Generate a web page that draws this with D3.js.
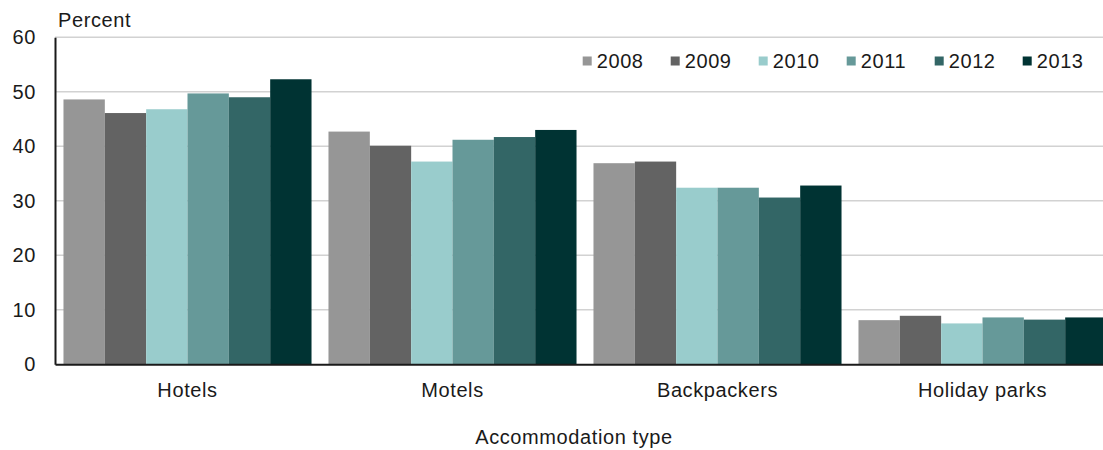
<!DOCTYPE html>
<html>
<head>
<meta charset="utf-8">
<script src="https://cdn.jsdelivr.net/npm/d3@7"></script>
<style>
  html, body { margin: 0; padding: 0; background: #fff; overflow: hidden; }
  svg { display: block; }
  text { font-family: "Liberation Sans", Arial, sans-serif; fill: #1a1a1a; letter-spacing: 0.6px; }
</style>
</head>
<body>
<svg id="chart" width="1103" height="450"></svg>
<script>
// Occupancy share by accommodation type, 2008–2013
const categories = ["Hotels", "Motels", "Backpackers", "Holiday parks"];
const years = ["2008", "2009", "2010", "2011", "2012", "2013"];
const v2008 = [48.6, 42.7, 36.9, 8.1];
const v2009 = [46.1, 40.1, 37.2, 8.9];
const v2010 = [46.8, 37.2, 32.4, 7.5];
const v2011 = [49.7, 41.2, 32.4, 8.6];
const v2012 = [49.0, 41.7, 30.6, 8.2];
const v2013 = [52.3, 43.0, 32.8, 8.6];
const yTicks = [0, 10, 20, 30, 40, 50, 60];
const colors = ["#969696", "#636363", "#99cccc", "#669999", "#336666", "#003333"];

const series = [v2008, v2009, v2010, v2011, v2012, v2013];
const rows = categories.map((c, i) => ({
  category: c,
  values: years.map((yr, j) => ({ year: yr, value: series[j][i] }))
}));

const svg = d3.select("#chart");
const plotLeft = 55, plotRight = 1115, plotTop = 37.3, plotBottom = 364.3;
const fontFamily = "'Liberation Sans', Arial, sans-serif";

const x0 = d3.scaleBand().domain(categories).range([plotLeft, plotRight]).paddingInner(0.064).paddingOuter(0.032);
const x1 = d3.scaleBand().domain(years).range([0, x0.bandwidth()]).padding(0);
const y = d3.scaleLinear().domain([0, 60]).range([plotBottom, plotTop]);

// horizontal gridlines
svg.append("g")
  .selectAll("line")
  .data(yTicks.filter(t => t > 0))
  .join("line")
  .attr("x1", plotLeft).attr("x2", plotRight)
  .attr("y1", d => y(d)).attr("y2", d => y(d))
  .attr("stroke", "#d2d2d2").attr("stroke-width", 1.4);

// bars
svg.append("g")
  .selectAll("g")
  .data(rows)
  .join("g")
  .attr("transform", d => `translate(${x0(d.category)},0)`)
  .selectAll("rect")
  .data(d => d.values)
  .join("rect")
  .attr("x", d => x1(d.year))
  .attr("y", d => y(d.value))
  .attr("width", x1.bandwidth())
  .attr("height", d => y(0) - y(d.value))
  .attr("fill", (d, i) => colors[i]);

// y axis
const yAxis = svg.append("g")
  .attr("transform", `translate(${plotLeft},0)`)
  .call(d3.axisLeft(y).tickValues(yTicks).tickSize(0).tickPadding(19).tickFormat(d3.format("d")));
yAxis.select(".domain").attr("stroke", "#1a1a1a").attr("stroke-width", 2);
yAxis.selectAll("text").attr("font-size", 20).style("font-family", fontFamily).attr("fill", "#1a1a1a");

// x axis
const xAxis = svg.append("g")
  .attr("transform", `translate(0,${plotBottom})`)
  .call(d3.axisBottom(x0).tickSize(0).tickPadding(18.5));
xAxis.select(".domain").attr("stroke", "#1a1a1a").attr("stroke-width", 2);
xAxis.selectAll("text").attr("font-size", 20).style("font-family", fontFamily).attr("fill", "#1a1a1a");

// axis titles
svg.append("text").attr("x", 58).attr("y", 27).attr("font-size", 20).text("Percent");
svg.append("text").attr("x", 574).attr("y", 444).attr("text-anchor", "middle").attr("font-size", 20).text("Accommodation type");

// legend
const legend = svg.append("g").attr("transform", "translate(582.7,61)");
const item = legend.selectAll("g").data(years).join("g")
  .attr("transform", (d, i) => `translate(${i * 88},0)`);
item.append("rect").attr("x", 0).attr("y", -4.5).attr("width", 9).attr("height", 9)
  .attr("fill", (d, i) => colors[i]);
item.append("text").attr("x", 14).attr("y", 7).attr("font-size", 20).text(d => d);
</script>
</body>
</html>
